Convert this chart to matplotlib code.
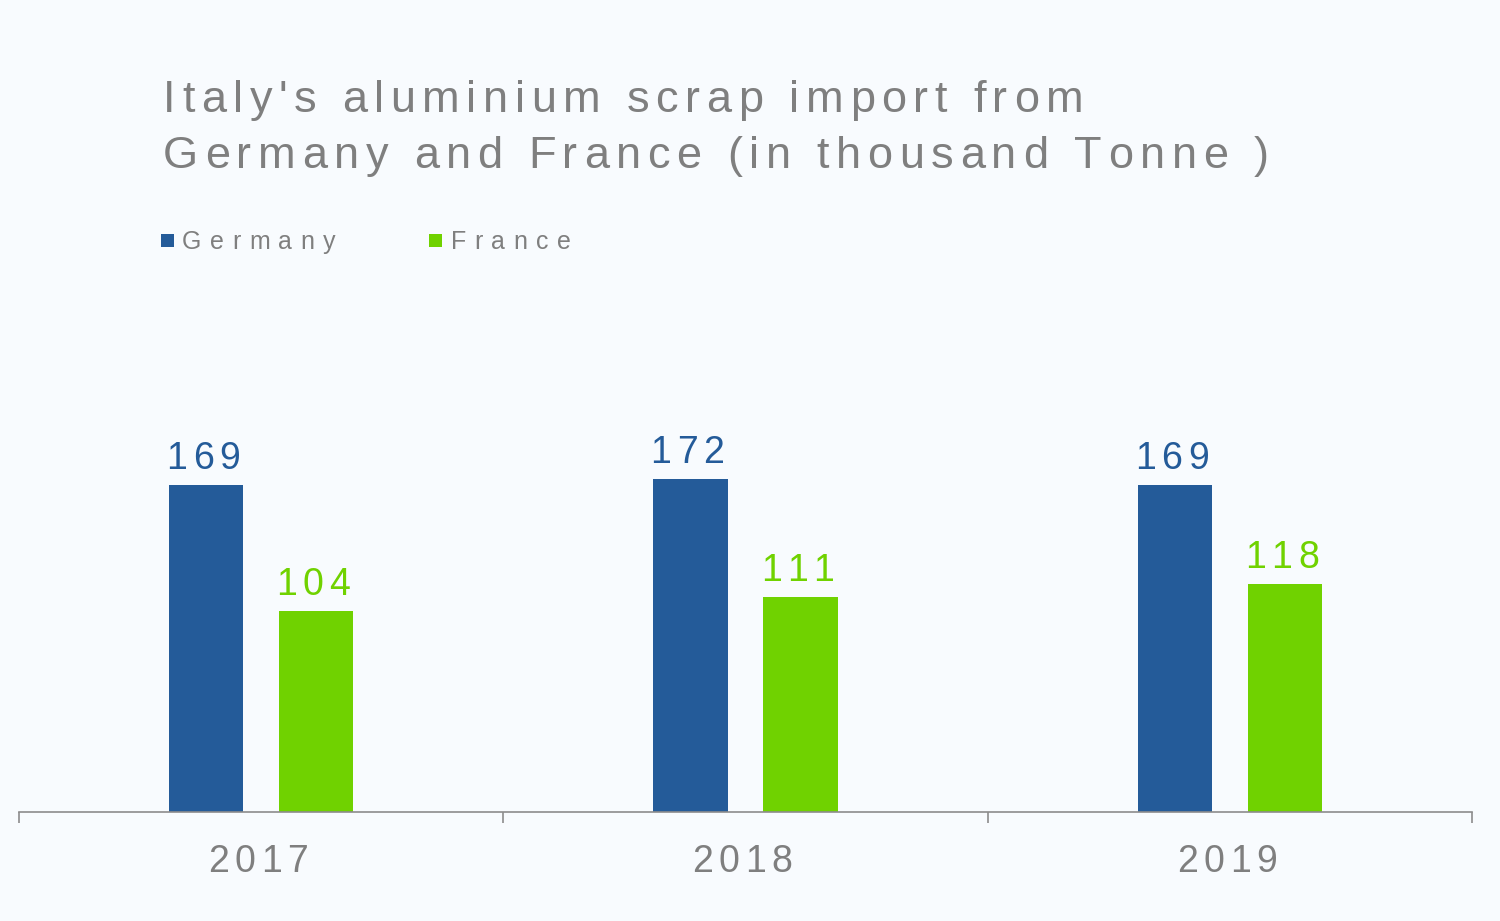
import matplotlib
matplotlib.use("Agg")
import matplotlib.pyplot as plt
from matplotlib.patches import Rectangle
from matplotlib.transforms import offset_copy, blended_transform_factory
from matplotlib.font_manager import FontProperties, findfont
from matplotlib.ft2font import FT2Font
import numpy as np

plt.rcParams['font.family'] = ['Liberation Sans', 'DejaVu Sans']

years = ["2017", "2018", "2019"]
germany = [169, 172, 169]
france = [104, 111, 118]
series_names = ["Germany", "France"]
title_lines = ["Italy's aluminium scrap import from",
               "Germany and France (in thousand Tonne )"]

BLUE = "#245B99"
GREEN = "#70D200"
GRAY = "#7F7F7F"
BG = "#F8FBFE"
DPI = 100
W, H = 1500, 921

fig = plt.figure(figsize=(W / DPI, H / DPI), dpi=DPI, facecolor=BG)
ax = fig.add_axes([19 / W, 1 - 812 / H, 1453 / W, (812 - 290) / H])
ax.set_facecolor(BG)

_font = FT2Font(findfont(FontProperties(family='Liberation Sans')))


def advances(s, size):
    _font.set_size(size, DPI)
    return [_font.load_char(ord(c)).linearHoriAdvance / 65536.0 for c in s]


def spaced_text(x, y, s, size, color, track, transform, ha="left"):
    """Draw text with extra letter spacing (track, in pixels)."""
    adv = advances(s, size)
    total = sum(adv) + track * (len(s) - 1)
    pos = -total / 2 if ha == "center" else 0.0
    for c, a in zip(s, adv):
        if c != " ":
            tr = offset_copy(transform, fig=fig, x=pos, y=0, units="dots")
            fig.text(x, y, c, fontsize=size, color=color, ha="left",
                     va="baseline", transform=tr)
        pos += a + track


x = np.arange(len(years))
w = 0.153
off = 0.1136
b1 = ax.bar(x - off, germany, w, color=BLUE, label=series_names[0])
b2 = ax.bar(x + off, france, w, color=GREEN, label=series_names[1])

ax.set_xlim(-0.5, 2.5)
ax.set_ylim(0, 270)
ax.set_yticks([])
for s in ["top", "left", "right"]:
    ax.spines[s].set_visible(False)
ax.spines["bottom"].set_color("#8C8C8C")
ax.spines["bottom"].set_linewidth(1.2)

ax.set_xticks(x)
ax.set_xticklabels([])
ax.tick_params(axis="x", which="major", length=0)
ax.set_xticks([-0.5, 0.5, 1.5, 2.5], minor=True)
ax.tick_params(axis="x", which="minor", length=8, color="#8C8C8C", width=1.2)

# data labels
for rects, vals, col in [(b1, germany, BLUE), (b2, france, GREEN)]:
    for r, v in zip(rects, vals):
        base = offset_copy(ax.transData, fig=fig, x=-3, y=16, units="dots")
        spaced_text(r.get_x() + r.get_width() / 2, v, f"{v}", 27, col, 5.6,
                    base, ha="center")

# category labels
cat_tr = blended_transform_factory(ax.transData, fig.transFigure)
for xi, yr in zip(x, years):
    spaced_text(xi - 0.006, 1 - 872 / H, yr, 27, GRAY, 5.6, cat_tr, ha="center")

# title
spaced_text(163 / W, 1 - 112 / H, title_lines[0], 32.5, GRAY, 6.6, fig.transFigure)
spaced_text(163 / W, 1 - 168 / H, title_lines[1], 32.5, GRAY, 6.6, fig.transFigure)

# legend
for (sx, tx), name, col in zip([(161, 182), (429, 451)], series_names, [BLUE, GREEN]):
    fig.add_artist(Rectangle((sx / W, 1 - 247 / H), 13 / W, 13 / H,
                             transform=fig.transFigure, facecolor=col,
                             edgecolor="none"))
    spaced_text(tx / W, 1 - 249 / H, name, 18, GRAY, 8.4, fig.transFigure)

fig.savefig("out.png", dpi=DPI, facecolor=BG)
